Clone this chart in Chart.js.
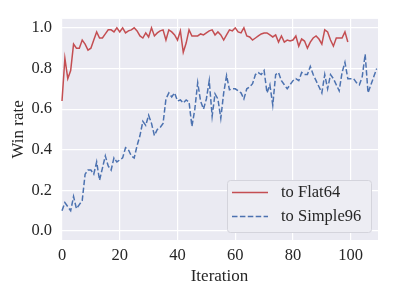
<!DOCTYPE html>
<html>
<head>
<meta charset="utf-8">
<script src="https://cdn.jsdelivr.net/npm/chart.js@4.4.1/dist/chart.umd.min.js"></script>
<style>
html,body{margin:0;padding:0;background:#ffffff;}
canvas{display:block;}
</style>
</head>
<body>
<canvas id="c" width="394" height="296"></canvas>
<script>
// ---- data ----
const seriesNames = ["to Flat64", "to Simple96"];
const flat64 = [
  0.64,0.85,0.75,0.79,0.92,0.90,0.90,0.94,0.92,0.89,
  0.90,0.94,0.98,0.95,0.95,0.97,0.99,0.99,0.98,1.00,
  0.98,1.00,0.975,0.985,0.99,1.00,0.985,0.96,0.95,0.975,
  0.955,1.00,0.96,0.975,0.985,0.99,0.94,0.99,0.98,0.965,
  0.94,0.985,0.88,0.925,0.99,0.96,0.96,0.96,0.97,0.965,
  0.975,0.985,0.99,0.965,0.98,0.965,0.94,0.965,0.99,0.985,
  1.00,0.98,0.975,1.00,0.96,0.955,0.94,0.95,0.96,0.97,
  0.975,0.975,0.965,0.955,0.965,0.93,0.96,0.93,0.94,0.935,
  0.94,0.96,0.91,0.945,0.935,0.90,0.93,0.95,0.96,0.945,
  0.92,0.99,0.98,0.94,0.91,0.95,0.95,0.95,0.98,0.93
];
const simple96 = [
  0.10,0.14,0.12,0.10,0.17,0.11,0.13,0.15,0.28,0.30,
  0.30,0.28,0.34,0.25,0.31,0.37,0.32,0.30,0.36,0.34,
  0.35,0.36,0.41,0.40,0.37,0.36,0.42,0.47,0.54,0.52,
  0.57,0.53,0.47,0.50,0.51,0.53,0.65,0.68,0.66,0.68,
  0.64,0.645,0.63,0.645,0.635,0.515,0.60,0.73,0.64,0.60,
  0.65,0.74,0.565,0.675,0.65,0.555,0.68,0.765,0.695,0.70,
  0.70,0.69,0.68,0.65,0.70,0.71,0.725,0.77,0.78,0.77,
  0.79,0.68,0.72,0.62,0.77,0.78,0.74,0.72,0.70,0.72,
  0.74,0.75,0.74,0.78,0.77,0.77,0.81,0.77,0.74,0.71,
  0.68,0.77,0.70,0.77,0.75,0.72,0.69,0.78,0.83,0.75,
  0.75,0.75,0.73,0.72,0.76,0.87,0.68,0.72,0.76,0.80
];
const xTicks = [0, 20, 40, 60, 80, 100];
const yTicks = [0.0, 0.2, 0.4, 0.6, 0.8, 1.0];
const xTitle = "Iteration";
const yTitle = "Win rate";

// ---- styles ----
const FONT = "'Liberation Serif', 'Times New Roman', serif";
const TXT = "#262626";
const RED = "#C44E52";
const BLUE = "#4C72B0";

const bgPlugin = {
  id: 'bg',
  beforeDraw(chart) {
    const a = chart.chartArea, ctx = chart.ctx;
    ctx.save();
    ctx.fillStyle = '#EAEAF2';
    ctx.fillRect(a.left, a.top, a.right - a.left, a.bottom - a.top);
    ctx.restore();
  }
};

const legendPlugin = {
  id: 'lowerRightLegend',
  afterDraw(chart) {
    const ctx = chart.ctx, a = chart.chartArea;
    const bw = 144, bh = 52;
    const x0 = a.right - 7 - bw, y0 = a.bottom - 8 - bh;
    ctx.save();
    ctx.beginPath();
    if (ctx.roundRect) ctx.roundRect(x0 + 0.5, y0 + 0.5, bw, bh, 3);
    else ctx.rect(x0 + 0.5, y0 + 0.5, bw, bh);
    ctx.fillStyle = '#EDEDF3';
    ctx.fill();
    ctx.lineWidth = 1;
    ctx.strokeStyle = '#D4D4DC';
    ctx.stroke();
    chart.data.datasets.forEach((ds, i) => {
      const yy = y0 + 12.5 + i * 24;
      ctx.beginPath();
      ctx.setLineDash(ds.borderDash || []);
      ctx.lineWidth = ds.borderWidth;
      ctx.strokeStyle = ds.borderColor;
      ctx.moveTo(x0 + 5, yy);
      ctx.lineTo(x0 + 41, yy);
      ctx.stroke();
      ctx.setLineDash([]);
      ctx.fillStyle = TXT;
      ctx.font = "16.5px " + FONT;
      ctx.textBaseline = 'middle';
      ctx.textAlign = 'left';
      ctx.fillText(ds.label, x0 + 54, yy + 0.5);
    });
    ctx.restore();
  }
};

new Chart(document.getElementById('c'), {
  type: 'line',
  data: {
    datasets: [
      {
        label: seriesNames[0],
        data: flat64.map((v, i) => ({x: i, y: v})),
        borderColor: RED,
        borderWidth: 1.5,
        pointRadius: 0,
        tension: 0,
        fill: false
      },
      {
        label: seriesNames[1],
        data: simple96.map((v, i) => ({x: i, y: v})),
        borderColor: BLUE,
        borderWidth: 1.5,
        borderDash: [5.5, 2.4],
        pointRadius: 0,
        tension: 0,
        fill: false
      }
    ]
  },
  options: {
    responsive: false,
    animation: false,
    devicePixelRatio: 1,
    layout: { padding: { top: 16, right: 16, left: 0, bottom: 0 } },
    plugins: { legend: { display: false }, tooltip: { enabled: false } },
    scales: {
      x: {
        type: 'linear',
        min: -0.35,
        max: 109.45,
        afterFit(s) { s.height = 56; },
        afterBuildTicks(s) { s.ticks = xTicks.map(v => ({value: v})); },
        grid: { color: '#FFFFFF', lineWidth: 1.2, drawTicks: false },
        border: { display: false },
        ticks: {
          color: TXT, padding: 6,
          font: { family: FONT, size: 16.5 },
          maxRotation: 0,
          callback: v => String(v)
        },
        title: {
          display: true, text: xTitle, color: TXT,
          font: { family: FONT, size: 17 },
          padding: { top: 0, bottom: 9 }
        }
      },
      y: {
        type: 'linear',
        min: -0.044,
        max: 1.044,
        afterFit(s) { s.width = 61; },
        afterBuildTicks(s) { s.ticks = yTicks.map(v => ({value: v})); },
        grid: { color: '#FFFFFF', lineWidth: 1.2, drawTicks: false },
        border: { display: false },
        ticks: {
          color: TXT, padding: 9,
          font: { family: FONT, size: 16.5 },
          callback: v => Number(v).toFixed(1)
        },
        title: {
          display: true, text: yTitle, color: TXT,
          font: { family: FONT, size: 17 },
          padding: { top: 8, bottom: 0 }
        }
      }
    }
  },
  plugins: [bgPlugin, legendPlugin]
});
</script>
</body>
</html>
